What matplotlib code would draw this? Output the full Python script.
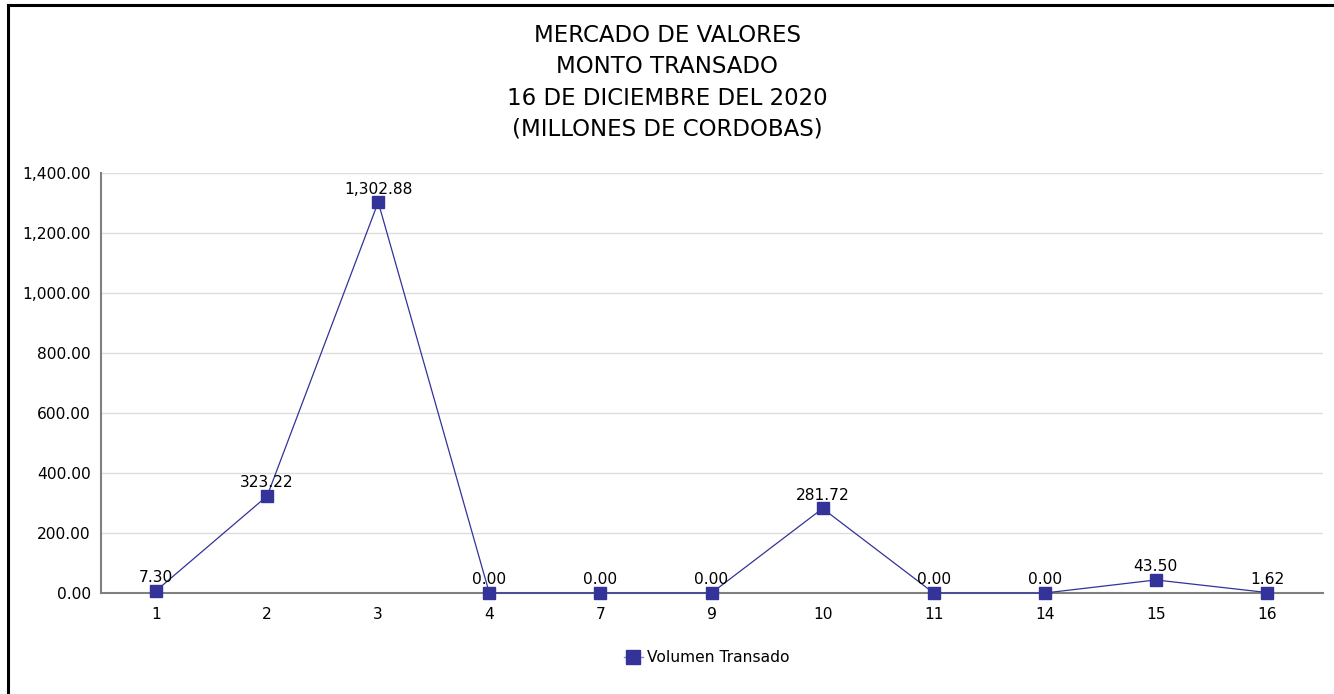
import matplotlib
matplotlib.use("Agg")
import matplotlib.pyplot as plt
from matplotlib.lines import Line2D
from matplotlib.ticker import FuncFormatter

# datos del grafico
dias = ["1", "2", "3", "4", "7", "9", "10", "11", "14", "15", "16"]
volumen = [7.30, 323.22, 1302.88, 0.00, 0.00, 0.00, 281.72, 0.00, 0.00, 43.50, 1.62]
titulo = "MERCADO DE VALORES\nMONTO TRANSADO\n16 DE DICIEMBRE DEL 2020\n(MILLONES DE CORDOBAS)"

color = "#333399"

fig = plt.figure(figsize=(13.34, 6.94), dpi=100)
ax = fig.add_axes([100.5 / 1334, 1 - 593 / 694, 1222 / 1334, 420 / 694])

x = list(range(len(dias)))
ax.plot(x, volumen, color=color, lw=0.9, marker="s", markersize=8,
        markerfacecolor=color, markeredgecolor=color, clip_on=False, zorder=3)

for xi, v in zip(x, volumen):
    ax.annotate(f"{v:,.2f}", (xi, v), xytext=(0, 4), textcoords="offset points",
                ha="center", va="bottom", fontsize=11.2, color="black", zorder=4)

ax.set_xlim(-0.5, len(dias) - 0.5)
ax.set_ylim(0, 1400)
ax.set_yticks(range(0, 1401, 200))
ax.yaxis.set_major_formatter(FuncFormatter(lambda v, p: f"{v:,.2f}"))
ax.set_xticks(x)
ax.set_xticklabels(dias)
ax.tick_params(axis="both", length=0, labelsize=11.2)
ax.tick_params(axis="x", pad=10)
ax.tick_params(axis="y", pad=7)

ax.grid(axis="y", color="#dddddd", lw=1)
ax.set_axisbelow(True)
for s in ["top", "right"]:
    ax.spines[s].set_visible(False)
for s in ["left", "bottom"]:
    ax.spines[s].set_color("#808080")
    ax.spines[s].set_linewidth(1.5)

fig.text(0.5, 1 - 24 / 694, titulo, ha="center", va="top", fontsize=16.5,
         linespacing=1.46)

h = Line2D([], [], color="#8888cc", lw=1, marker="s", markersize=10,
           markerfacecolor=color, markeredgecolor=color)
fig.legend([h], ["Volumen Transado"], loc="center", bbox_to_anchor=(0.53, 1 - 658 / 694),
           frameon=False, fontsize=11.2, handlelength=1.2, handletextpad=0.3)

# borde izquierdo y superior
fig.add_artist(Line2D([8 / 1334, 8 / 1334], [0, 1 - 5 / 694], color="black", lw=2.2,
                      transform=fig.transFigure))
fig.add_artist(Line2D([8 / 1334, 1], [1 - 5 / 694, 1 - 5 / 694], color="black", lw=2.2,
                      transform=fig.transFigure))

fig.savefig("out.png", dpi=100)
